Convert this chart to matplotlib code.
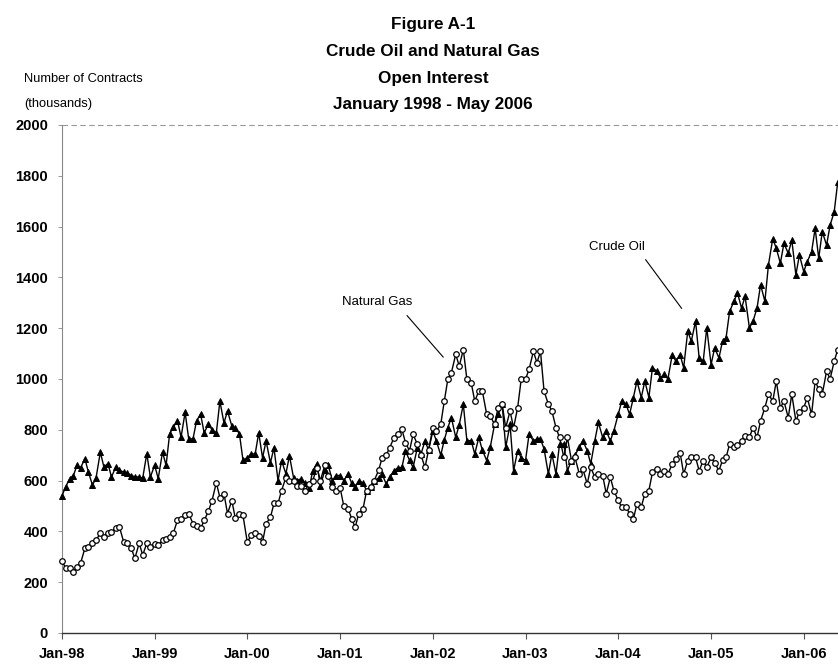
import matplotlib
matplotlib.use("Agg")
import matplotlib.pyplot as plt
import pandas as pd

plt.rcParams['font.family'] = ['Liberation Sans', 'DejaVu Sans']

# semi-monthly readings (1st and 15th of each month), Jan 1998 - May 2006, thousands of contracts
crude_oil = [
    # 1998
    540, 575, 608, 620, 660, 650, 686, 634, 582, 610, 712, 654,
    667, 614, 654, 640, 634, 630, 620, 615, 614, 610, 706, 614,
    # 1999
    660, 608, 712, 660, 784, 810, 836, 771, 869, 765, 764, 835,
    862, 788, 823, 800, 788, 913, 827, 874, 815, 808, 784, 680,
    # 2000
    690, 705, 705, 788, 690, 756, 670, 729, 600, 678, 627, 698,
    612, 600, 608, 590, 572, 639, 666, 580, 640, 660, 600, 620,
    # 2001
    620, 600, 626, 590, 575, 600, 590, 560, 575, 600, 610, 626,
    587, 613, 639, 650, 652, 717, 680, 652, 730, 704, 756, 720,
    # 2002
    795, 756, 700, 760, 809, 848, 770, 820, 901, 757, 757, 705,
    770, 720, 679, 731, 821, 861, 901, 731, 821, 639, 718, 690,
    # 2003
    679, 783, 757, 763, 763, 725, 626, 705, 626, 744, 744, 639,
    679, 700, 731, 757, 718, 666, 757, 829, 770, 796, 757, 796,
    # 2004
    861, 913, 900, 861, 927, 992, 927, 992, 927, 1044, 1031, 1005,
    1018, 1000, 1096, 1070, 1096, 1044, 1188, 1149, 1227, 1083, 1070, 1201,
    # 2005
    1057, 1122, 1083, 1149, 1162, 1266, 1306, 1339, 1279, 1325, 1201, 1227,
    1279, 1371, 1306, 1449, 1553, 1514, 1456, 1534, 1495, 1547, 1410, 1488,
    # 2006 (Jan - May)
    1423, 1462, 1501, 1593, 1475, 1580, 1527, 1606, 1658, 1776,
]

natural_gas = [
    # 1998
    285, 255, 255, 240, 261, 274, 333, 340, 353, 366, 392, 379,
    392, 399, 412, 418, 359, 353, 333, 294, 353, 307, 353, 340,
    # 1999
    350, 345, 366, 372, 379, 392, 444, 450, 464, 470, 431, 420,
    412, 443, 480, 521, 592, 533, 549, 470, 521, 451, 470, 463,
    # 2000
    357, 384, 392, 380, 357, 431, 455, 510, 510, 561, 612, 600,
    600, 580, 580, 561, 588, 600, 651, 600, 660, 620, 575, 560,
    # 2001
    570, 500, 490, 450, 416, 470, 490, 560, 575, 600, 640, 689,
    700, 730, 769, 782, 802, 750, 717, 782, 743, 700, 652, 720,
    # 2002
    808, 795, 821, 913, 999, 1025, 1097, 1051, 1116, 999, 985, 913,
    952, 952, 861, 855, 821, 887, 901, 808, 874, 808, 887, 999,
    # 2003
    999, 1038, 1109, 1064, 1109, 952, 901, 874, 808, 770, 691, 770,
    679, 691, 626, 645, 587, 652, 613, 626, 620, 548, 613, 561,
    # 2004
    522, 496, 496, 470, 449, 509, 496, 548, 561, 632, 645, 626,
    639, 626, 665, 684, 710, 626, 678, 691, 691, 639, 678, 652,
    # 2005
    691, 670, 639, 680, 691, 744, 731, 740, 757, 776, 770, 809,
    770, 835, 887, 940, 913, 992, 887, 913, 848, 940, 835, 870,
    # 2006 (Jan - May)
    887, 926, 861, 992, 960, 940, 1031, 1000, 1070, 1116,
]

months = pd.date_range("1998-01-01", "2006-05-01", freq="MS")
dates = []
for mth in months:
    dates.append(mth)
    dates.append(mth + pd.Timedelta(days=14))

year_ticks = pd.date_range("1998-01-01", "2006-01-01", freq="YS")
year_labels = ["Jan-98", "Jan-99", "Jan-00", "Jan-01", "Jan-02",
               "Jan-03", "Jan-04", "Jan-05", "Jan-06"]
y_ticks = list(range(0, 2001, 200))

W, H = 838, 665
fig = plt.figure(figsize=(W / 100, H / 100), dpi=100)
ax = fig.add_axes([62 / W, 1 - 633 / H, (838 - 62) / W, (633 - 125) / H])

ax.plot(dates, crude_oil, color="black", lw=1.0, marker="^", ms=4.4,
        mfc="black", mec="black", mew=0.7, clip_on=False, zorder=3)
ax.plot(dates, natural_gas, color="black", lw=1.0, marker="o", ms=4.0,
        mfc="white", mec="black", mew=0.9, clip_on=False, zorder=3)

ax.set_xlim(pd.Timestamp("1998-01-01"), pd.Timestamp("2006-05-16"))
ax.set_ylim(0, 2000)
ax.set_xticks(year_ticks)
ax.set_xticklabels(year_labels)
ax.set_yticks(y_ticks)
ax.set_yticklabels([str(v) for v in y_ticks])

for lab in ax.get_xticklabels() + ax.get_yticklabels():
    lab.set_fontweight("bold")
    lab.set_fontsize(10.5)

ax.tick_params(axis="x", direction="out", length=4, width=0.8, color="#555555", pad=6)
ax.tick_params(axis="y", direction="out", length=3, width=0.6, color="#888888", pad=7)

ax.spines["right"].set_visible(False)
ax.spines["top"].set_visible(False)
ax.spines["left"].set_color("#888888")
ax.spines["left"].set_linewidth(0.8)
ax.spines["bottom"].set_color("#333333")
ax.spines["bottom"].set_linewidth(1.0)
ax.axhline(2000, color="#999999", lw=0.8, ls=(0, (5, 3)), zorder=1, clip_on=False)

# annotations
ax.text(pd.Timestamp("2001-01-10"), 1305, "Natural Gas", fontsize=9.5, va="center", ha="left")
ax.annotate("", xy=(pd.Timestamp("2002-02-11"), 1086), xytext=(pd.Timestamp("2001-09-21"), 1250),
            arrowprops=dict(arrowstyle="-", lw=0.8, color="black", shrinkA=0, shrinkB=0))
ax.text(pd.Timestamp("2003-09-10"), 1521, "Crude Oil", fontsize=9.5, va="center", ha="left")
ax.annotate("", xy=(pd.Timestamp("2004-09-07"), 1278), xytext=(pd.Timestamp("2004-04-18"), 1470),
            arrowprops=dict(arrowstyle="-", lw=0.8, color="black", shrinkA=0, shrinkB=0))

# titles
title_lines = ["Figure A-1", "Crude Oil and Natural Gas", "Open Interest", "January 1998 - May 2006"]
title_y = [24, 51, 78, 104]
for t, yy in zip(title_lines, title_y):
    fig.text(433 / W, 1 - yy / H, t, ha="center", va="center", fontsize=12.3, fontweight="bold")

fig.text(24 / W, 1 - 79 / H, "Number of Contracts", ha="left", va="center", fontsize=9.3)
fig.text(24 / W, 1 - 104 / H, "(thousands)", ha="left", va="center", fontsize=9.3)

fig.savefig("out.png", dpi=100)
